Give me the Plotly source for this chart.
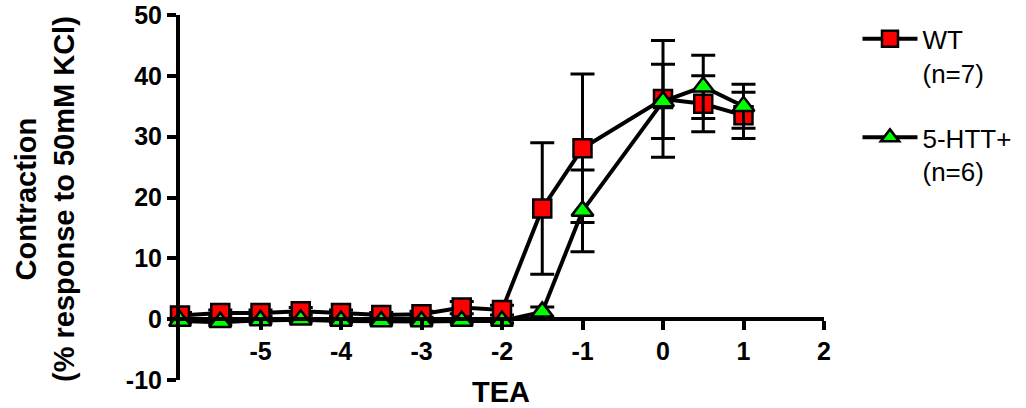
import plotly.graph_objects as go

# ---- data ----
tea_log = [-6, -5.5, -5, -4.5, -4, -3.5, -3, -2.5, -2, -1.5, -1, 0, 0.5, 1]
wt_mean = [0.6, 1.0, 1.0, 1.3, 1.0, 0.7, 0.8, 1.9, 1.5, 18.2, 28.1, 36.2, 35.4, 33.5]
wt_sem = [0.5, 0.5, 0.5, 0.6, 0.5, 0.4, 0.5, 1.0, 0.8, 10.8, 12.2, 9.6, 4.6, 3.8]
htt_mean = [-0.3, -0.5, -0.2, -0.1, -0.3, -0.4, -0.4, -0.3, -0.3, 1.2, 17.8, 35.8, 38.2, 35.0]
htt_sem = [0.3, 0.4, 0.3, 0.3, 0.3, 0.3, 0.3, 0.3, 0.3, 0.8, 6.7, 6.1, 5.2, 3.6]
series_names = ["WT<br>(n=7)", "5-HTT+<br>(n=6)"]
x_ticks = [-5, -4, -3, -2, -1, 0, 1, 2]
y_ticks = [-10, 0, 10, 20, 30, 40, 50]

FONT = "Arial, 'Liberation Sans', sans-serif"

fig = go.Figure()

fig.add_trace(go.Scatter(
    x=tea_log, y=wt_mean, name=series_names[0], mode="lines+markers",
    line=dict(color="black", width=4),
    marker=dict(symbol="square", size=18, color="#FF0000",
                line=dict(color="black", width=2.5)),
    error_y=dict(type="data", array=wt_sem, visible=True,
                 color="black", thickness=3, width=12),
    cliponaxis=False, legendgroup="a",
))
fig.add_trace(go.Scatter(
    x=tea_log, y=htt_mean, name=series_names[1], mode="lines+markers",
    line=dict(color="black", width=4),
    marker=dict(symbol="triangle-up", size=19, color="#00FF00",
                line=dict(color="black", width=2.5)),
    error_y=dict(type="data", array=htt_sem, visible=True,
                 color="black", thickness=3, width=12),
    cliponaxis=False, legendgroup="b",
))

# x axis crosses y axis at y = 0
y0_frac = (0 - (-10)) / (50 - (-10))

fig.update_layout(
    width=1026, height=408,
    margin=dict(l=180, r=202, t=15, b=28, autoexpand=False),
    paper_bgcolor="white", plot_bgcolor="white",
    font=dict(family=FONT, color="black"),
    showlegend=True,
    legend=dict(
        x=1.052, y=0.999, xanchor="left", yanchor="top",
        font=dict(family=FONT, size=26, color="black"),
        itemwidth=55, valign="top",
        traceorder="grouped", tracegroupgap=28,
        bgcolor="rgba(0,0,0,0)",
    ),
    xaxis=dict(
        range=[-6, 2], tickvals=x_ticks, ticktext=[str(v) for v in x_ticks],
        showgrid=False, zeroline=False, automargin=False,
        showline=True, linecolor="black", linewidth=4,
        ticks="outside", ticklen=9, tickwidth=4, tickcolor="black",
        tickfont=dict(family=FONT, size=25, color="black", weight="bold"),
        anchor="free", position=y0_frac,
    ),
    yaxis=dict(
        range=[-10, 50], tickvals=y_ticks, ticktext=[str(v) for v in y_ticks],
        showgrid=False, zeroline=False, automargin=False,
        showline=True, linecolor="black", linewidth=4,
        ticks="outside", ticklen=9, tickwidth=4, tickcolor="black",
        tickfont=dict(family=FONT, size=25, color="black", weight="bold"),
    ),
    annotations=[
        dict(text="<b>TEA</b>", xref="paper", yref="paper",
             x=0.498, y=-0.032, xanchor="center", yanchor="middle",
             showarrow=False, font=dict(family=FONT, size=29, color="black")),
        dict(text="<b>Contraction<br>(% response to 50mM KCl)</b>",
             xref="paper", yref="paper", x=(45 - 180) / 644, y=0.496,
             xanchor="center", yanchor="middle", textangle=-90,
             showarrow=False, font=dict(family=FONT, size=29, color="black")),
    ],
)

fig.write_html(
    "out.html",
    config={"displayModeBar": False},
    post_script="document.body.style.margin='0';document.body.style.overflow='hidden';",
)
